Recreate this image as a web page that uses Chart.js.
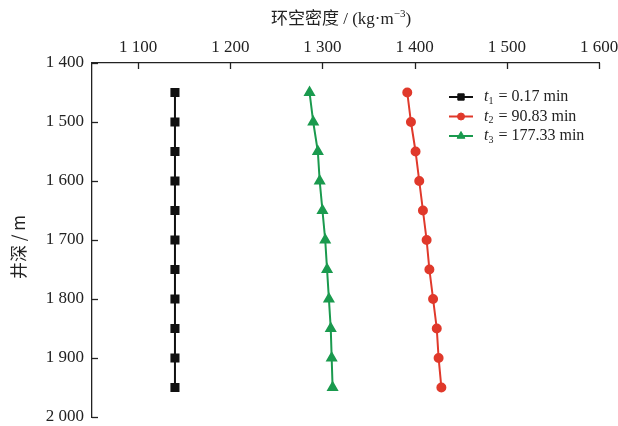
<!DOCTYPE html>
<html><head><meta charset="utf-8">
<script src="https://cdn.jsdelivr.net/npm/chart.js@4/dist/chart.umd.min.js"></script>
<style>html,body{margin:0;padding:0;background:#fff}#wrap{width:618px;height:426px}</style>
</head><body><div id="wrap"><canvas id="c" width="618" height="426"></canvas></div>
<script>
const depths = [1450,1500,1550,1600,1650,1700,1750,1800,1850,1900,1950];
const densT1 = [1140,1140,1140,1140,1140,1140,1140,1140,1140,1140,1140];
const densT2 = [1392,1396,1401,1405,1409,1413,1416,1420,1424,1426,1429];
const densT3 = [1286,1290,1295,1297,1300,1303,1305,1307,1309,1310,1311];
const seriesSub = ['1','2','3'];
const seriesRest = [' = 0.17 min',' = 90.83 min',' = 177.33 min'];
const xTicks = [1100,1200,1300,1400,1500,1600];
const yTicks = [1400,1500,1600,1700,1800,1900,2000];
const xTitleCJK = '环空密度';
const yTitle = '井深 / m';

const colors = ['#111111','#e0392b','#1a9a4e'];
const styles = ['rect','circle','triangle'];
const radii = [5,4,5];
const vals = [densT1,densT2,densT3];
const fmt = v => { const s = String(v); return s.length>3 ? s.slice(0,s.length-3)+' '+s.slice(-3) : s; };
const serif = '"Liberation Serif", "DejaVu Serif", serif';

const datasets = vals.map((arr,i)=>({
  label: 't'+seriesSub[i]+seriesRest[i],
  data: arr.map((v,j)=>({x:v,y:depths[j]})),
  borderColor: colors[i], backgroundColor: colors[i],
  pointStyle: styles[i], pointRadius: radii[i], pointHoverRadius: radii[i],
  borderWidth: 2, showLine: true, tension: 0
}));

const custom = {
  id:'custom',
  afterDraw(chart){
    const ctx = chart.ctx, xs = chart.scales.x, ys = chart.scales.y, ca = chart.chartArea;
    ctx.save();
    ctx.strokeStyle = '#222'; ctx.lineWidth = 1.3;
    xTicks.forEach(v=>{ const px = Math.round(xs.getPixelForValue(v))+0.5;
      ctx.beginPath(); ctx.moveTo(px, ca.top); ctx.lineTo(px, ca.top+6); ctx.stroke(); });
    yTicks.forEach(v=>{ const py = Math.round(ys.getPixelForValue(v))+0.5;
      ctx.beginPath(); ctx.moveTo(ca.left, py); ctx.lineTo(ca.left+6, py); ctx.stroke(); });
    ctx.fillStyle = '#222'; ctx.textBaseline = 'alphabetic';
    const f1 = '17px "Noto Sans CJK SC"', f2 = '17px '+serif, f3 = '11px '+serif;
    const parts = [[xTitleCJK,f1,0],[' / (kg·m',f2,0],['−3',f3,-7],[')',f2,0]];
    let w = 0; parts.forEach(p=>{ctx.font=p[1]; w+=ctx.measureText(p[0]).width;});
    let x = 341 - w/2; const yb = 24;
    parts.forEach(p=>{ctx.font=p[1]; ctx.textAlign='left'; ctx.fillText(p[0], x, yb+p[2]); x+=ctx.measureText(p[0]).width;});
    ctx.save(); ctx.translate(19, 247); ctx.rotate(-Math.PI/2);
    ctx.font = '17px "Noto Sans CJK SC"'; ctx.textAlign='center'; ctx.textBaseline='middle';
    ctx.fillText(yTitle, 0, 0); ctx.restore();
    const lx = 449, ly0 = 97, dy = 19.5;
    chart.data.datasets.forEach((ds,i)=>{
      const y = ly0 + i*dy;
      ctx.strokeStyle = ds.borderColor; ctx.lineWidth = 2;
      ctx.beginPath(); ctx.moveTo(lx, y); ctx.lineTo(lx+24, y); ctx.stroke();
      ctx.fillStyle = ds.backgroundColor; ctx.strokeStyle = ds.borderColor; ctx.lineWidth = 1;
      Chart.helpers.drawPoint(ctx, {pointStyle: ds.pointStyle, radius: ds.pointRadius-0.5, rotation:0, borderWidth:1}, lx+12, y);
      ctx.fillStyle = '#222'; ctx.textBaseline='middle'; ctx.textAlign='left';
      let tx = lx + 35;
      ctx.font = 'italic 16px '+serif; ctx.fillText('t', tx, y); tx += ctx.measureText('t').width;
      ctx.font = '10px '+serif; ctx.fillText(seriesSub[i], tx, y+4); tx += ctx.measureText(seriesSub[i]).width+1;
      ctx.font = '16px '+serif; ctx.fillText(seriesRest[i], tx, y);
    });
    ctx.restore();
  }
};

new Chart(document.getElementById('c'), {
  type: 'scatter',
  data: { datasets },
  options: {
    responsive: false, animation: false,
    layout: { padding: { left: 0, top: 0, right: 19, bottom: 9 } },
    plugins: { legend: { display: false }, tooltip: { enabled: false } },
    elements: { point: { borderWidth: 1 } },
    scales: {
      x: { type: 'linear', position: 'top', min: 1050, max: 1600,
        afterBuildTicks: s => { s.ticks = xTicks.map(v=>({value:v})); },
        afterFit: s => { s.height = 63; s.paddingLeft = 0; s.paddingRight = 0; },
        grid: { display: false, drawTicks: false },
        border: { display: true, color: '#222', width: 1.3 },
        ticks: { color: '#222', padding: 5, font: { family: serif, size: 17 }, callback: v => fmt(v), maxRotation: 0 } },
      y: { type: 'linear', reverse: true, min: 1400, max: 2000,
        afterBuildTicks: s => { s.ticks = yTicks.map(v=>({value:v})); },
        afterFit: s => { s.width = 92; s.paddingTop = 0; s.paddingBottom = 0; },
        grid: { display: false, drawTicks: false },
        border: { display: true, color: '#222', width: 1.3 },
        ticks: { color: '#222', padding: 8, font: { family: serif, size: 17 }, callback: v => fmt(v) } }
    }
  },
  plugins: [custom]
});
</script></body></html>
